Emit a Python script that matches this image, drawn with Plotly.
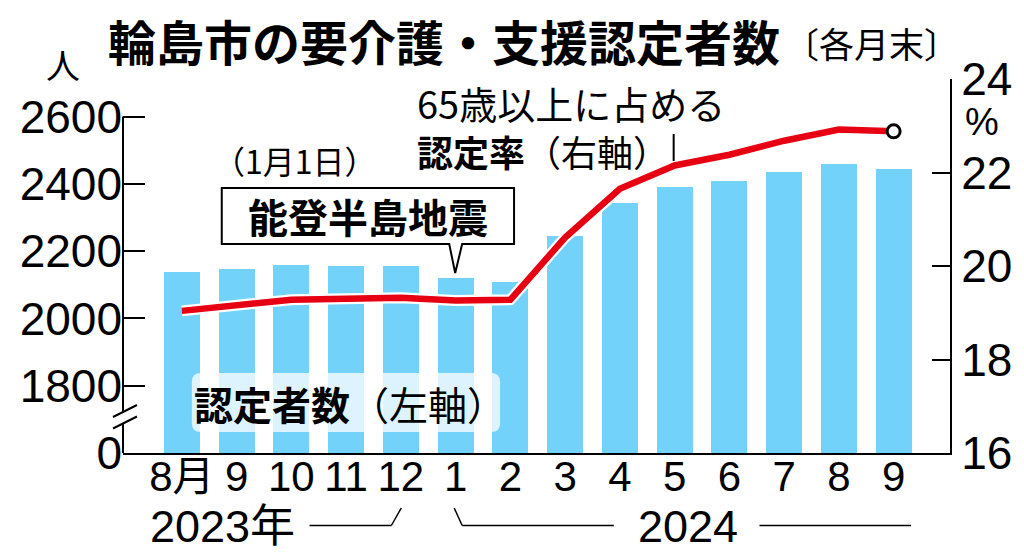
import plotly.graph_objects as go

# ---------------- data ----------------
month_labels = ["8月", "9", "10", "11", "12", "1", "2", "3", "4", "5", "6", "7", "8", "9"]
certified_count = [2138, 2146, 2159, 2155, 2155, 2120, 2109, 2245, 2343, 2390, 2409, 2436, 2458, 2444]
certified_rate = [19.04, 19.17, 19.28, 19.30, 19.32, 19.26, 19.28, 20.61, 21.65, 22.15, 22.38, 22.68, 22.92, 22.88]
left_tick_vals = [1600, 1800, 2000, 2200, 2400, 2600]
left_tick_text = ["0", "1800", "2000", "2200", "2400", "2600"]
right_tick_vals = [16, 18, 20, 22, 24]
right_tick_text = ["16", "18", "20", "22", "24"]

x_idx = list(range(len(month_labels)))

# ---------------- geometry helpers (decorations only) ----------------
W, H = 1024, 555
PL, PR, PT, PB = 123, 952, 79, 453


def fx(px):
    return (px - PL) / (PR - PL)


def fy(py):
    return (PB - py) / (PB - PT)


BLUE = "#73D2FA"
RED = "#E60012"
NUM_FONT = "Liberation Sans, Arial, Noto Sans CJK JP"
JP_FONT = "Noto Sans CJK JP, Liberation Sans"

fig = go.Figure()

fig.add_trace(go.Bar(
    x=x_idx, y=certified_count, marker=dict(color=BLUE, line=dict(width=0)),
    width=0.656, yaxis="y", showlegend=False, hoverinfo="skip"))

fig.add_trace(go.Scatter(
    x=x_idx, y=certified_rate, mode="lines", yaxis="y2",
    line=dict(color="white", width=11), showlegend=False, hoverinfo="skip"))
fig.add_trace(go.Scatter(
    x=x_idx, y=certified_rate, mode="lines", yaxis="y2",
    line=dict(color=RED, width=6.5), showlegend=False, hoverinfo="skip"))
fig.add_trace(go.Scatter(
    x=[x_idx[-1]], y=[certified_rate[-1]], mode="markers", yaxis="y2",
    marker=dict(size=13, color="white", line=dict(color="black", width=3)),
    showlegend=False, hoverinfo="skip"))

span = len(month_labels) - 1
cpx = (895.5 - 182) / span
x_lo = (PL - 182) / cpx
x_hi = span + (PR - 895.5) / cpx
y_top = 1600 + (PB - PT) / 67.3 * 200

shapes = []
# left axis line with break
shapes.append(dict(type="line", xref="paper", yref="paper", x0=0, x1=0, y0=0, y1=fy(423),
                   line=dict(color="black", width=2)))
shapes.append(dict(type="line", xref="paper", yref="y", x0=0, x1=0, y0=fy(413) * (y_top - 1600) + 1600,
                   y1=left_tick_vals[-1], line=dict(color="black", width=2)))
shapes.append(dict(type="line", xref="paper", yref="paper", x0=fx(113), y0=fy(417), x1=fx(137), y1=fy(405),
                   line=dict(color="black", width=2)))
shapes.append(dict(type="line", xref="paper", yref="paper", x0=fx(113), y0=fy(428.5), x1=fx(137), y1=fy(416.5),
                   line=dict(color="black", width=2)))

# callout box for 能登半島地震
bx0, bx1, by0, by1 = 222, 515, 188, 244
path = (f"M {fx(bx0)},{fy(by0)} L {fx(bx1)},{fy(by0)} L {fx(bx1)},{fy(by1)} "
        f"L {fx(463)},{fy(by1)} L {fx(456)},{fy(273)} L {fx(450)},{fy(by1)} "
        f"L {fx(bx0)},{fy(by1)} Z")
shapes.append(dict(type="path", xref="paper", yref="paper", path=path,
                   fillcolor="white", line=dict(color="black", width=2), layer="above"))

# translucent rounded box behind 認定者数（左軸）
rx0, rx1, ry0, ry1, r = 192, 501, 373, 432, 9
def P(px, py):
    return f"{fx(px)},{fy(py)}"
rpath = (f"M {P(rx0 + r, ry0)} L {P(rx1 - r, ry0)} Q {P(rx1, ry0)} {P(rx1, ry0 + r)} "
         f"L {P(rx1, ry1 - r)} Q {P(rx1, ry1)} {P(rx1 - r, ry1)} "
         f"L {P(rx0 + r, ry1)} Q {P(rx0, ry1)} {P(rx0, ry1 - r)} "
         f"L {P(rx0, ry0 + r)} Q {P(rx0, ry0)} {P(rx0 + r, ry0)} Z")
shapes.append(dict(type="path", xref="paper", yref="paper", path=rpath,
                   fillcolor="rgba(255,255,255,0.76)", line=dict(width=0), layer="above"))

# leader line for rate label
shapes.append(dict(type="line", xref="paper", yref="paper", x0=fx(675), x1=fx(675), y0=fy(134), y1=fy(161),
                   line=dict(color="black", width=2)))

# year brackets under x axis
def seg(x0, y0, x1, y1):
    return dict(type="line", xref="paper", yref="paper", x0=fx(x0), y0=fy(y0), x1=fx(x1), y1=fy(y1),
                line=dict(color="black", width=1.5))
shapes += [seg(310, 525.5, 392, 525.5), seg(392, 525.5, 402, 508),
           seg(455, 508, 463, 525.5), seg(463, 525.5, 615, 525.5),
           seg(761, 525.5, 913, 525.5)]

annotations = []
def ann(text, px, py, size, family=JP_FONT, xanchor="left", yanchor="middle", color="black"):
    annotations.append(dict(text=text, xref="paper", yref="paper", x=fx(px), y=fy(py),
                            xanchor=xanchor, yanchor=yanchor, showarrow=False,
                            font=dict(size=size, family=family, color=color)))

ann("<b>輪島市の要介護・支援認定者数</b>", 106, 40, 48)
ann("〔各月末〕", 784, 42, 35)
ann("人", 63, 64, 34, xanchor="center")
ann("%", 984, 122, 38, family=NUM_FONT, xanchor="center")
ann("65歳以上に占める", 416, 102, 38)
ann("<b>認定率</b>（右軸）", 416, 151, 36)
ann("（1月1日）", 295, 160, 32, xanchor="center")
ann("<b>能登半島地震</b>", 369, 216, 40, xanchor="center")
ann("<b>認定者数</b>（左軸）", 351, 403, 39, xanchor="center")
ann("2023年", 148, 526, 45, family=NUM_FONT)
ann("2024", 689, 526, 45, family=NUM_FONT, xanchor="center")

fig.update_layout(
    width=W, height=H,
    margin=dict(l=PL, r=W - PR, t=PT, b=H - PB, pad=0),
    paper_bgcolor="white", plot_bgcolor="white",
    bargap=0,
    xaxis=dict(range=[x_lo, x_hi], tickvals=x_idx, ticktext=month_labels, showgrid=False,
               zeroline=False, showline=True, linecolor="black", linewidth=2, ticks="",
               ticklabelstandoff=-14,
               tickfont=dict(size=42, family=NUM_FONT, color="black"), fixedrange=True),
    yaxis=dict(range=[1600, y_top], tickvals=left_tick_vals, ticktext=left_tick_text,
               showgrid=False, zeroline=False, showline=False, ticks="inside", ticklen=22,
               tickwidth=2, tickcolor="black",
               tickfont=dict(size=46, family=NUM_FONT, color="black"), fixedrange=True),
    yaxis2=dict(range=[16, 24], tickvals=right_tick_vals, ticktext=right_tick_text,
                overlaying="y", side="right", showgrid=False, zeroline=False, showline=True,
                linecolor="black", linewidth=2, ticks="inside", ticklen=18, tickwidth=2,
                tickcolor="black", tickfont=dict(size=46, family=NUM_FONT, color="black"),
                fixedrange=True),
    shapes=shapes, annotations=annotations, showlegend=False,
)

fig.write_html("out.html", config=dict(displayModeBar=False))
